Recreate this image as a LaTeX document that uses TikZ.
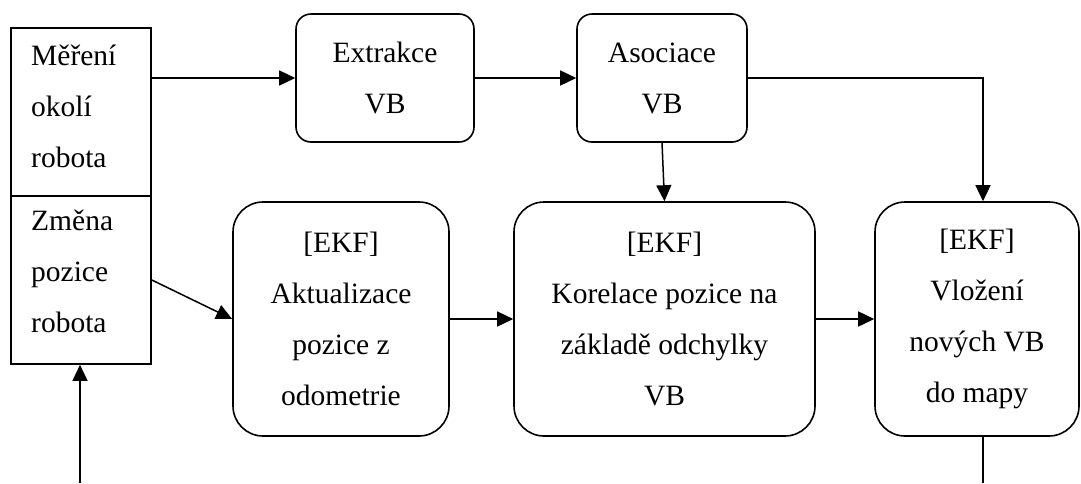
\documentclass[tikz,border=0pt]{standalone}
\usepackage{fontspec}
\setmainfont{Liberation Serif}
\usetikzlibrary{arrows.meta}
\begin{document}
\begin{tikzpicture}[x=1pt,y=-1pt,
  font=\fontsize{29.5}{51}\selectfont,
  plain/.style={draw, line width=1.6pt, inner sep=0pt},
  rbox/.style={draw, line width=1.6pt, rounded corners=15pt, align=center, inner sep=0pt},
  bigbox/.style={rbox, rounded corners=30pt, minimum height=234pt},
  lbl/.style={align=left, anchor=base west, inner sep=0pt},
  arr/.style={-{Triangle[length=16pt,width=15pt]}, line width=1.5pt}]
\useasboundingbox (0,0) rectangle (1081,483);
% left input box
\node[plain, minimum width=140pt, minimum height=168pt] (meas) at (81,112) {};
\node[plain, minimum width=140pt, minimum height=168pt] (chg) at (81,280) {};
\node[lbl] (meastxt) at (31,167) {Měření\\okolí\\robota};
\node[lbl] (chgtxt) at (31,332) {Změna\\pozice\\robota};
% top row
\node[rbox, minimum width=178pt, minimum height=128pt] (ext) at (385,78) {Extrakce\\VB};
\node[rbox, minimum width=170pt, minimum height=128pt] (aso) at (662,78) {Asociace\\VB};
% bottom row
\node[bigbox, minimum width=216pt] (akt) at (341,319) {[EKF]\\Aktualizace\\pozice z\\odometrie};
\node[bigbox, minimum width=301pt] (kor) at (664.5,319) {[EKF]\\Korelace pozice na\\základě odchylky\\VB};
\node[bigbox, minimum width=204pt] (vlo) at (977,319) {[EKF]\\Vložení\\nových VB\\do mapy};
\coordinate (inp) at (80,483);
\coordinate (outp) at (983,483);
% connectors
\draw[arr] (ext.west -| meas.east) -- (ext.west);
\draw[arr] (ext.east) -- (aso.west);
\draw[arr] (aso.east) -| ([xshift=6pt]vlo.north);
\draw[arr] (aso.south) -- (kor.north);
\draw[arr] (chg.east) -- (akt.west);
\draw[arr] (akt.east) -- (kor.west);
\draw[arr] (kor.east) -- (vlo.west);
\draw[arr] (inp) -- (inp |- chg.south);
\draw[line width=1.5pt] ([xshift=6pt]vlo.south) -- (outp);
\end{tikzpicture}
\end{document}
